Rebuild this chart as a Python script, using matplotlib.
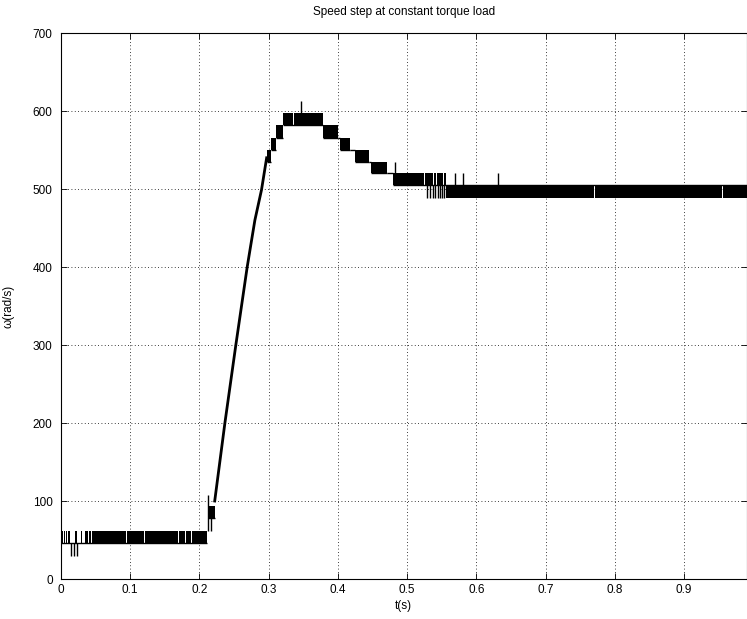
import numpy as np
import matplotlib.pyplot as plt

plt.rcParams['font.family'] = ['Liberation Sans', 'DejaVu Sans']

# plateau segments of the quantised speed signal (rad/s), toggling between lo and hi
seg_start = [0.000, 0.2125, 0.297, 0.303, 0.311, 0.321, 0.3785, 0.400, 0.4026, 0.418, 0.424, 0.445, 0.447, 0.471, 0.4795, 0.5565]
seg_end = [0.211, 0.222, 0.303, 0.311, 0.321, 0.3785, 0.400, 0.4026, 0.418, 0.424, 0.445, 0.447, 0.471, 0.4795, 0.5565, 0.990]
seg_lo = [46, 78, 535, 550, 566, 582, 566, 566, 550, 550, 535, 535, 520, 520, 505, 489]
seg_hi = [62, 94, 550, 566, 582, 598, 582, 566, 566, 550, 550, 535, 535, 520, 521, 505]
seg_rest = [46, 78, 535, 550, 566, 582, 566, 566, 550, 550, 535, 535, 520, 520, 505, 505]

# intervals where the signal stays on the rest level (white gaps in the band)
gaps = [(0.003, 0.0045), (0.006, 0.0075), (0.009, 0.0105), (0.0125, 0.0205),
        (0.023, 0.0295), (0.031, 0.034), (0.037, 0.038), (0.0395, 0.0405),
        (0.0435, 0.0445), (0.0485, 0.0495), (0.0945, 0.0955), (0.1165, 0.1175),
        (0.1205, 0.1215), (0.125, 0.126), (0.147, 0.148), (0.1555, 0.1565),
        (0.1625, 0.1635), (0.1695, 0.1705), (0.1795, 0.1805), (0.188, 0.189),
        (0.313, 0.3138), (0.323, 0.3238), (0.335, 0.3358), (0.349, 0.3498),
        (0.356, 0.3568), (0.4195, 0.4203), (0.5245, 0.5255), (0.531, 0.532),
        (0.537, 0.538), (0.542, 0.543), (0.547, 0.548), (0.552, 0.553),
        (0.5800, 0.5810), (0.770, 0.7706), (0.859, 0.8596), (0.955, 0.9558)]

# ramp of the speed step (centre of the toggling staircase)
ramp_t = [0.222, 0.2367, 0.2525, 0.2689, 0.2737, 0.280, 0.2896, 0.297]
ramp_w = [100, 200, 300, 400, 426, 460, 499, 540]

# isolated spikes: time, from, to
spike_t = [0.015, 0.019, 0.0235, 0.2116, 0.2165, 0.347, 0.482,
           0.528, 0.5325, 0.537, 0.5405, 0.544, 0.547, 0.5505, 0.553,
           0.5685, 0.5805, 0.631]
spike_lo = [30, 30, 30, 62, 62, 598, 520,
            489, 489, 489, 489, 489, 489, 489, 489,
            505, 505, 505]
spike_hi = [46, 46, 46, 108, 78, 613, 535,
            505, 505, 505, 505, 505, 505, 505, 505,
            521, 521, 521]

fig = plt.figure(figsize=(7.47, 6.19), dpi=100)
ax = fig.add_axes([61 / 747, 40 / 619, 685.5 / 747, 546 / 619])

for a, b, lo, hi, rest in zip(seg_start, seg_end, seg_lo, seg_hi, seg_rest):
    ax.hlines(rest, a, b, color='k', lw=1.0, zorder=3)
    if hi == lo:
        continue
    # split the segment at the gaps
    starts, ends = [a], []
    for g0, g1 in gaps:
        if a < g0 < b:
            ends.append(g0)
            starts.append(g1)
    ends.append(b)
    ax.bar(starts, hi - lo, width=np.array(ends) - np.array(starts), bottom=lo,
           align='edge', color='k', lw=0, zorder=3)

ax.plot(ramp_t, ramp_w, color='k', lw=2.0, zorder=3)
ax.vlines(spike_t, spike_lo, spike_hi, color='k', lw=1.0, zorder=3)

ax.set_xlim(0, 0.99)
ax.set_ylim(0, 700)
ax.set_xticks(np.arange(0, 1.0, 0.1))
ax.set_xticklabels(['0', '0.1', '0.2', '0.3', '0.4', '0.5', '0.6', '0.7', '0.8', '0.9'])
ax.set_yticks(np.arange(0, 701, 100))
ax.tick_params(direction='in', length=4, width=0.6, labelsize=8.5,
               top=True, right=True, colors='k')
ax.tick_params(axis='y', pad=6)
ax.grid(True, color='k', linestyle=(0, (1, 3)), lw=0.6, zorder=0)
for s in ax.spines.values():
    s.set_linewidth(0.8)

ax.set_title('Speed step at constant torque load', fontsize=8.5, pad=13)
ax.set_xlabel('t(s)', fontsize=8.5, labelpad=3)
ax.set_ylabel('ω(rad/s)', fontsize=8.5, labelpad=13)

fig.savefig('out.png', dpi=100)
